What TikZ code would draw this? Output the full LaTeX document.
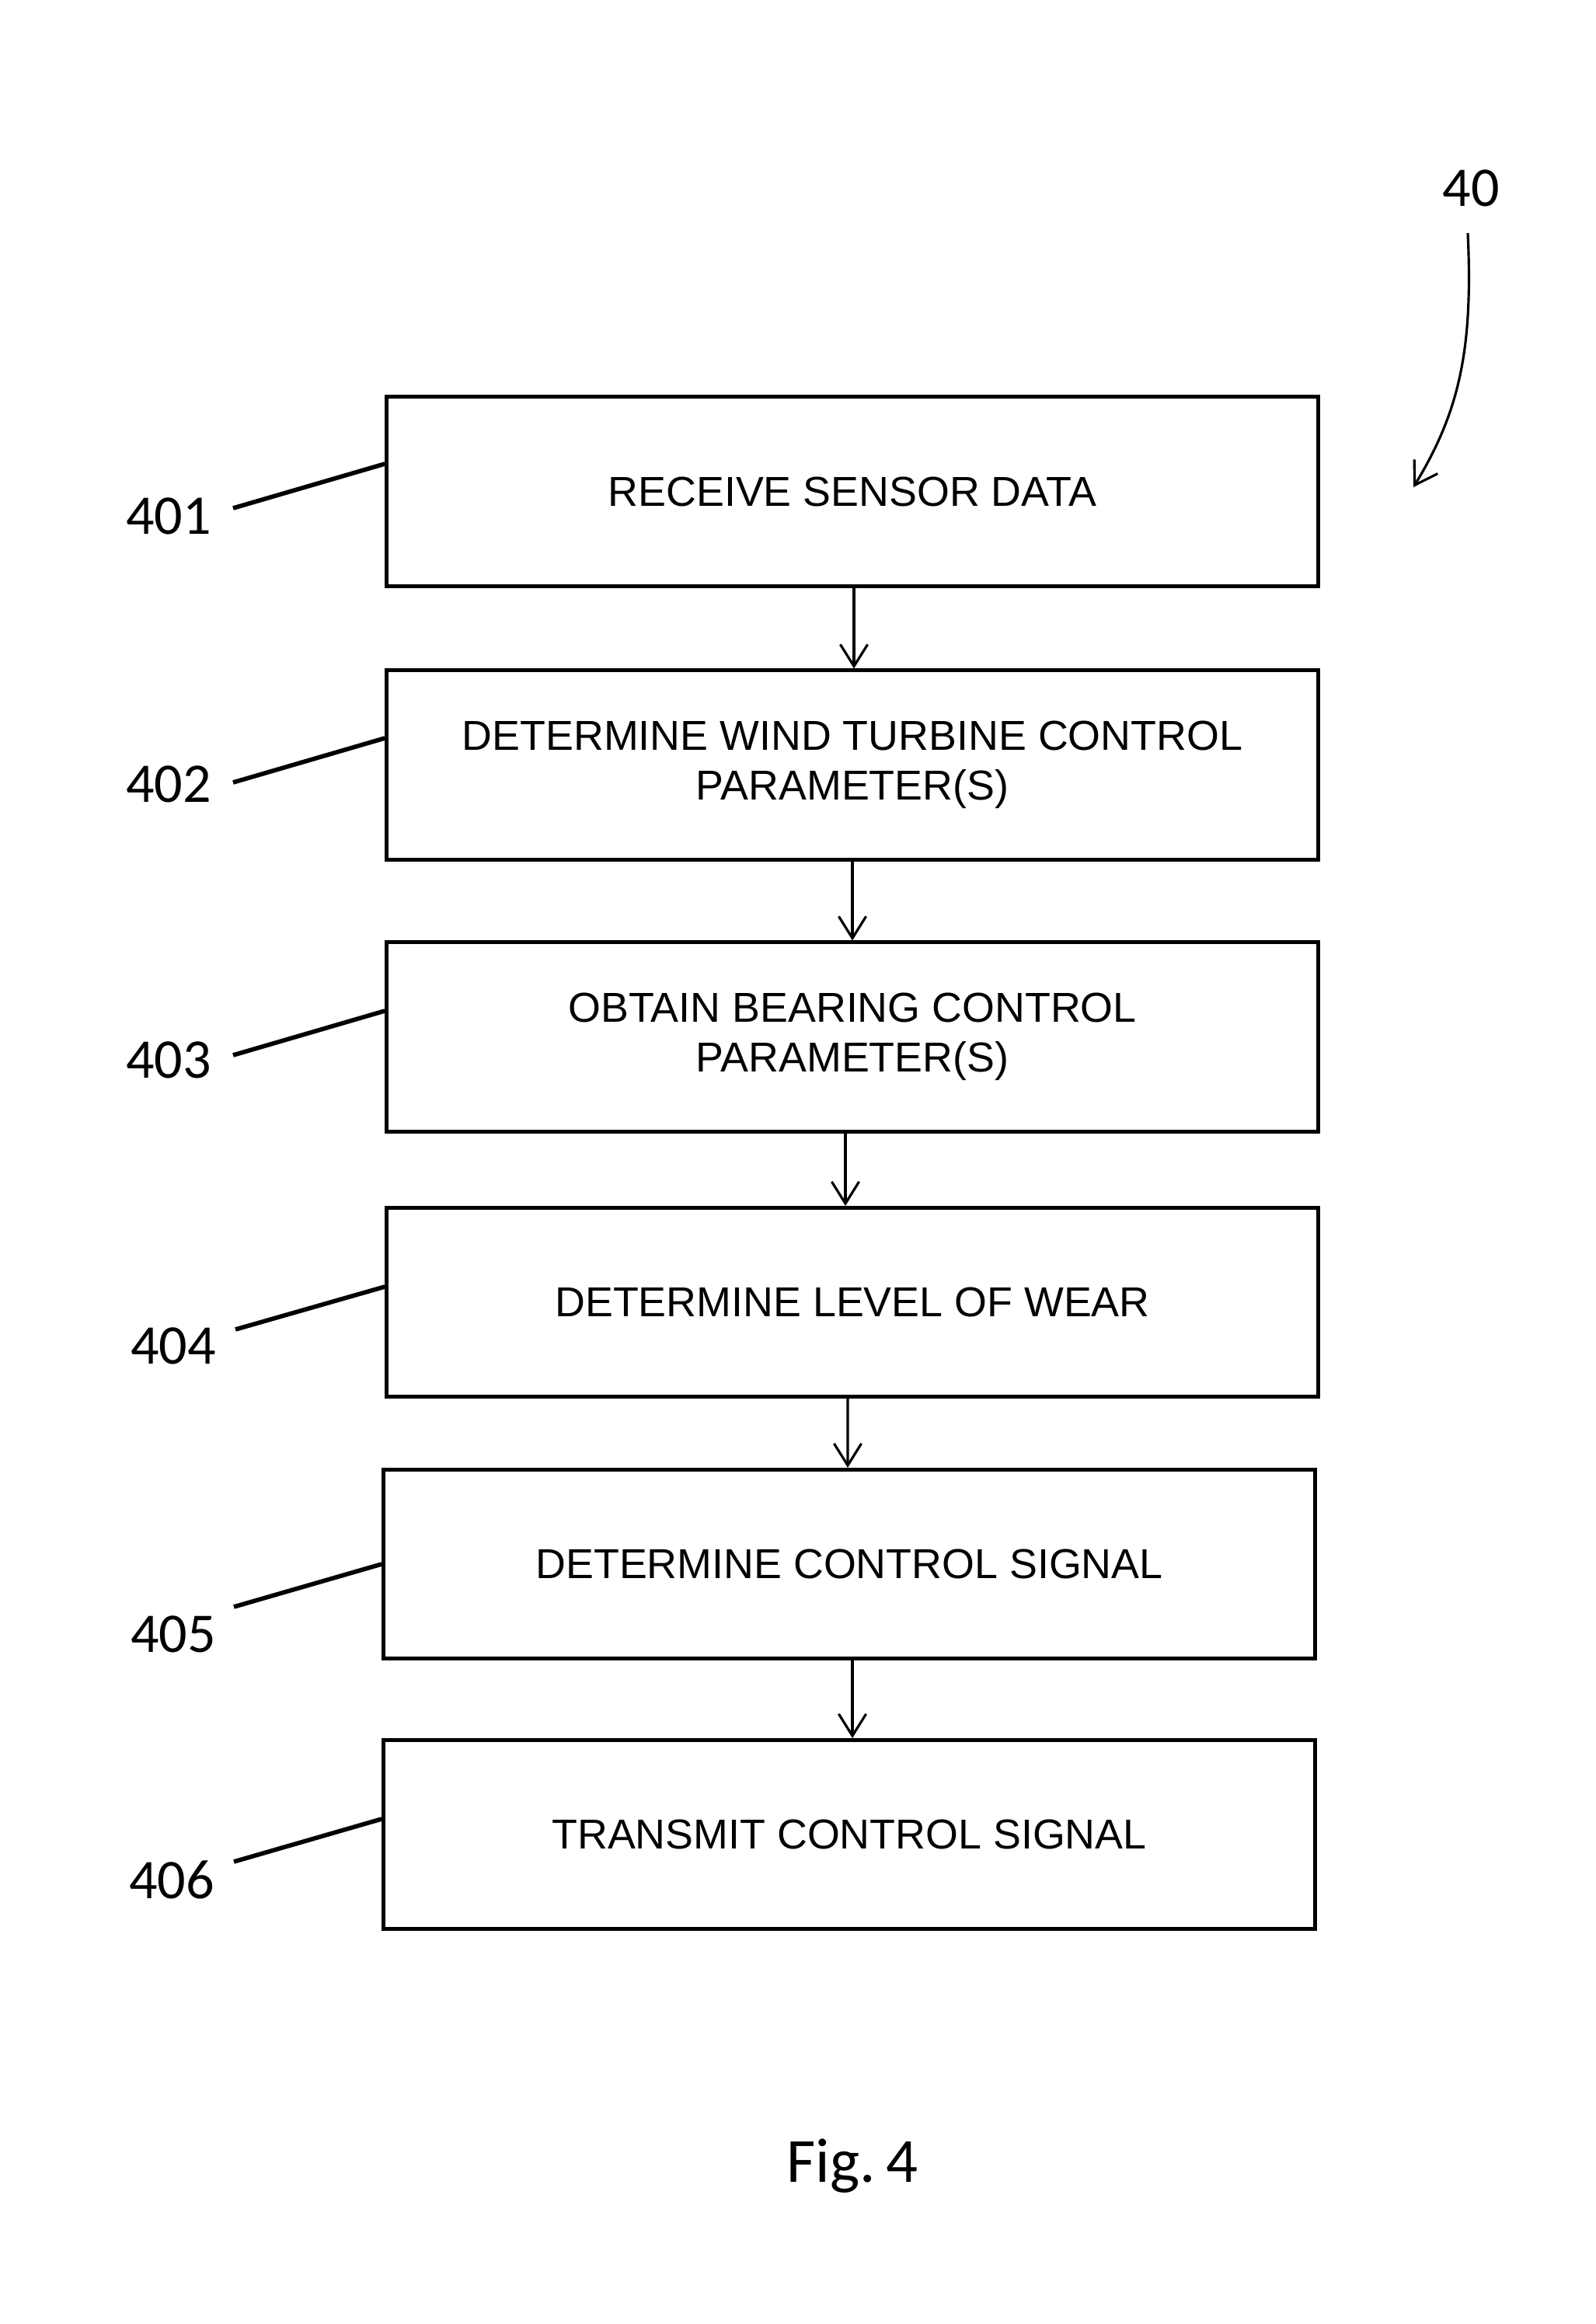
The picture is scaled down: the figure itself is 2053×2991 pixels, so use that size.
\documentclass[tikz,border=0pt]{standalone}
\usepackage{fontspec}
\setmainfont{Liberation Sans}
\newfontfamily\calibri{Carlito}
\usetikzlibrary{arrows.meta}
\begin{document}
\begin{tikzpicture}[x=0.01cm,y=-0.01cm,
  stepbox/.style={draw, line width=1.4pt, minimum width=11.98cm, minimum height=2.43cm,
    inner sep=0pt, align=center, font=\fontsize{15.3}{18.3}\selectfont},
  reflabel/.style={font=\calibri\fontsize{20.5}{25}\selectfont, inner sep=0pt},
  flow/.style={-{Straight Barb[length=8pt,width=10pt]}, line width=0.9pt},
  leader/.style={line width=1.6pt}]
\useasboundingbox (0,0) rectangle (2053,2991);

\node[stepbox] (b1) at (1097,632.5) {RECEIVE SENSOR DATA};
\node[stepbox] (b2) at (1097,984.5) {DETERMINE WIND TURBINE CONTROL\\PARAMETER(S)};
\node[stepbox] (b3) at (1097,1334.5) {OBTAIN BEARING CONTROL\\PARAMETER(S)};
\node[stepbox] (b4) at (1097,1676) {DETERMINE LEVEL OF WEAR};
\node[stepbox] (b5) at (1093,2013) {DETERMINE CONTROL SIGNAL};
\node[stepbox] (b6) at (1093,2361) {TRANSMIT CONTROL SIGNAL};

\draw[flow] ([xshift=0.02cm]b1.south) -- ([xshift=0.02cm]b2.north);
\draw[flow] (b2.south) -- (b3.north);
\draw[flow] ([xshift=-0.09cm]b3.south) -- ([xshift=-0.09cm]b4.north);
\draw[flow] ([xshift=-0.06cm]b4.south) -- ([xshift=-0.02cm]b5.north);
\draw[flow] ([xshift=0.04cm]b5.south) -- ([xshift=0.04cm]b6.north);

\node[reflabel] (l1) at (217,664) {401};
\node[reflabel] (l2) at (217,1009) {402};
\node[reflabel] (l3) at (217,1364) {403};
\node[reflabel] (l4) at (223,1732) {404};
\node[reflabel] (l5) at (223,2103) {405};
\node[reflabel] (l6) at (221,2419) {406};

\coordinate (s1) at (300,654);
\coordinate (s2) at (300,1007);
\coordinate (s3) at (300,1358);
\coordinate (s4) at (303,1711);
\coordinate (s5) at (301,2068);
\coordinate (s6) at (301,2396);
\draw[leader] (s1) -- (b1.west |- 0,597);
\draw[leader] (s2) -- (b2.west |- 0,950);
\draw[leader] (s3) -- (b3.west |- 0,1301);
\draw[leader] (s4) -- (b4.west |- 0,1656);
\draw[leader] (s5) -- (b5.west |- 0,2013);
\draw[leader] (s6) -- (b6.west |- 0,2341);

\node[reflabel] (l40) at (1893,242) {40};
\coordinate (c40s) at (1889,300);
\coordinate (c40e) at (1819,627);
\draw[flow] (c40s) .. controls (1896,450) and (1878,530) .. (c40e);

\node[font=\calibri\fontsize{23}{28}\selectfont, inner sep=0pt] (fig) at (1097,2788) {Fig.\,4};
\end{tikzpicture}
\end{document}
